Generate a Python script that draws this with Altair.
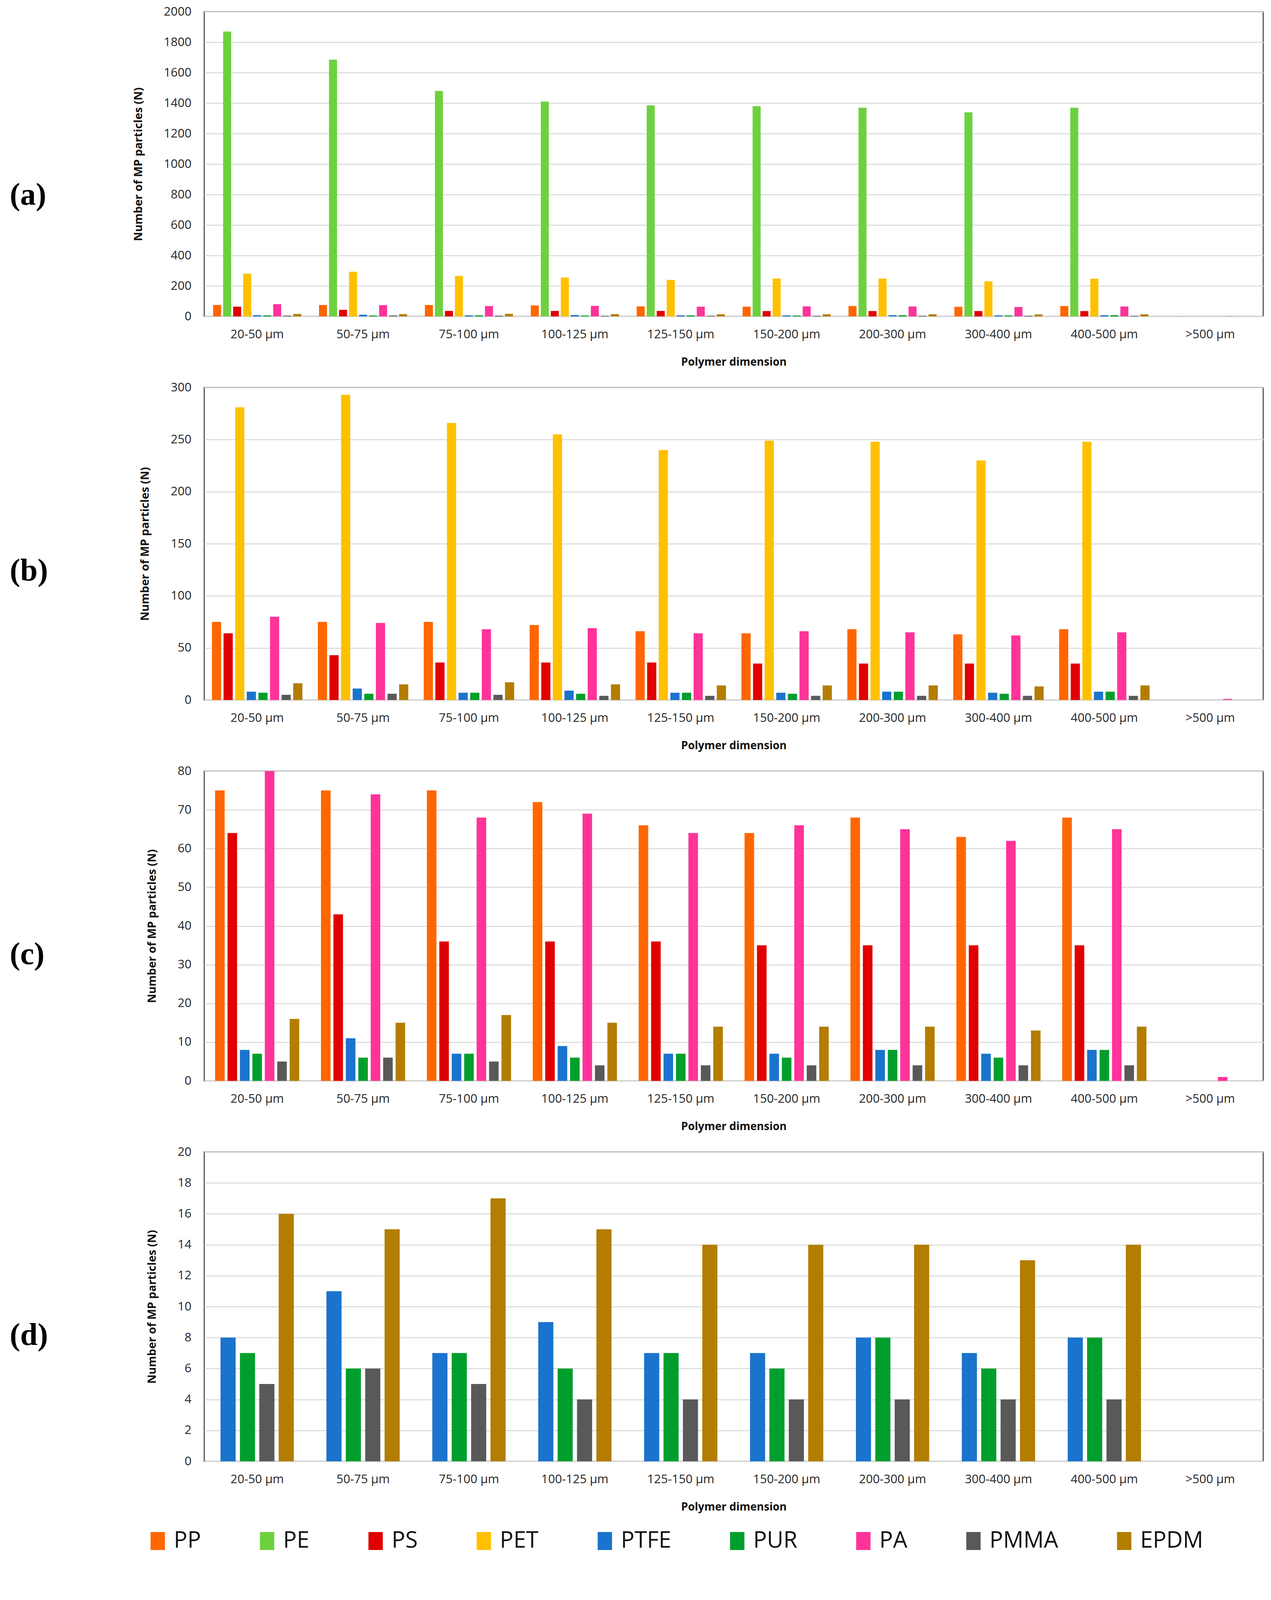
import pandas as pd
import altair as alt

# size classes and polymers
sizes = ["20-50 µm", "50-75 µm", "75-100 µm", "100-125 µm", "125-150 µm",
         "150-200 µm", "200-300 µm", "300-400 µm", "400-500 µm", ">500 µm"]
polymers = ["PP", "PE", "PS", "PET", "PTFE", "PUR", "PA", "PMMA", "EPDM"]
colors = ["#FF6600", "#6DD13F", "#E00000", "#FFC000", "#1A73CD",
          "#009E2C", "#FF3399", "#595959", "#B37D00"]

# number of MP particles per size class
pp = [75, 75, 75, 72, 66, 64, 68, 63, 68, 0]
pe = [1870, 1685, 1480, 1410, 1385, 1380, 1370, 1340, 1370, 1]
ps = [64, 43, 36, 36, 36, 35, 35, 35, 35, 0]
pet = [281, 293, 266, 255, 240, 249, 248, 230, 248, 0]
ptfe = [8, 11, 7, 9, 7, 7, 8, 7, 8, 0]
pur = [7, 6, 7, 6, 7, 6, 8, 6, 8, 0]
pa = [80, 74, 68, 69, 64, 66, 65, 62, 65, 1]
pmma = [5, 6, 5, 4, 4, 4, 4, 4, 4, 0]
epdm = [16, 15, 17, 15, 14, 14, 14, 13, 14, 0]

series = dict(zip(polymers, [pp, pe, ps, pet, ptfe, pur, pa, pmma, epdm]))
rows = []
for name, vals in series.items():
    for s, v in zip(sizes, vals):
        rows.append({"size": s, "polymer": name, "count": v})
df = pd.DataFrame(rows)

legend = alt.Legend(
    orient="none", legendX=-148, legendY=3886, direction="horizontal",
    columns=9, columnPadding=140, padding=0,
    labelFont="Open Sans", labelFontSize=58, labelColor="#111111",
    labelLimit=400, labelOffset=12,
    symbolType="M-0.8,-1H0.8V1H-0.8Z", symbolSize=2116,
    symbolStrokeWidth=0, symbolOpacity=1,
)


def panel(tag, subset, ymax, ystep, h, group_pad, bar_pad):
    bars = alt.Chart(df).transform_filter(
        alt.FieldOneOfPredicate(field="polymer", oneOf=subset)
    ).mark_bar().encode(
        x=alt.X("size:N", sort=sizes,
                scale=alt.Scale(paddingInner=group_pad, paddingOuter=group_pad / 2),
                axis=alt.Axis(title="Polymer dimension", labelAngle=0)),
        xOffset=alt.XOffset("polymer:N", sort=subset,
                            scale=alt.Scale(domain=subset, paddingInner=bar_pad, paddingOuter=0)),
        y=alt.Y("count:Q", scale=alt.Scale(domain=[0, ymax], nice=False),
                axis=alt.Axis(title="Number of MP particles (N)", format="d",
                              values=list(range(0, ymax + 1, ystep)))),
        color=alt.Color("polymer:N", title=None,
                        scale=alt.Scale(domain=polymers, range=colors), legend=legend),
    )
    label = alt.Chart(pd.DataFrame({"tag": [tag]})).mark_text(
        font="Liberation Serif", fontWeight="bold", fontSize=80,
        align="left", baseline="middle", color="black"
    ).encode(text="tag:N", x=alt.value(-498), y=alt.value(470))
    return alt.layer(bars, label).properties(width=2712, height=h)


chart_a = panel("(a)", polymers, 2000, 200, 780, 0.168, 0.2)
chart_b = panel("(b)", [p for p in polymers if p != "PE"], 300, 50, 800, 0.146, 0.21)
chart_c = panel("(c)", ["PP", "PS", "PTFE", "PUR", "PA", "PMMA", "EPDM"], 80, 10, 793, 0.205, 0.23)
chart_d = panel("(d)", ["PTFE", "PUR", "PMMA", "EPDM"], 20, 2, 792, 0.308, 0.22)

chart = alt.vconcat(
    chart_a, chart_b, chart_c, chart_d, spacing=182, bounds="flush"
).resolve_scale(
    x="independent", y="independent", xOffset="independent", color="shared"
).properties(
    padding={"left": 15, "top": 4, "right": 0, "bottom": 30}
).configure_view(
    stroke="#3a3a3a", strokeWidth=2.5
).configure_axis(
    labelFont="Open Sans", labelFontSize=31, labelColor="#262626",
    titleFont="Open Sans", titleFontSize=28, titleFontWeight="bold", titleColor="#111111",
    ticks=False, tickSize=0
).configure_axisX(
    grid=False, domainColor="#d9d9d9", domainWidth=3,
    labelPadding=31, titlePadding=42
).configure_axisY(
    domain=False, grid=True, gridColor="#d9d9d9", gridWidth=2.5,
    labelPadding=33, titlePadding=50, titleFontSize=29
)

chart.save("out.html", embed_options={"renderer": "svg", "actions": False})
